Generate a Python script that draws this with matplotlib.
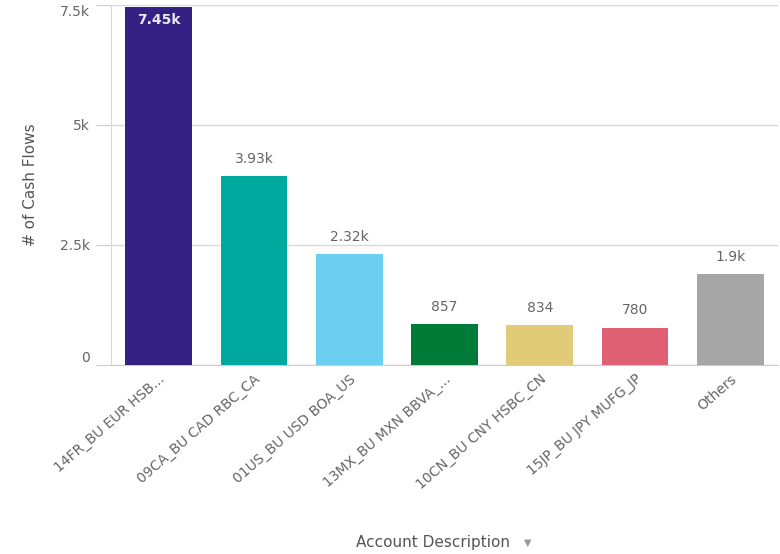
import matplotlib.pyplot as plt

# data
accounts = ['14FR_BU EUR HSB...', '09CA_BU CAD RBC_CA', '01US_BU USD BOA_US',
            '13MX_BU MXN BBVA_...', '10CN_BU CNY HSBC_CN', '15JP_BU JPY MUFG_JP', 'Others']
flows = [7450, 3930, 2320, 857, 834, 780, 1900]
value_labels = ['7.45k', '3.93k', '2.32k', '857', '834', '780', '1.9k']
colors = ['#332283', '#00a99d', '#6ccff0', '#007a37', '#e2cb78', '#e06073', '#a6a6a6']
yticks = [0, 2500, 5000, 7500]
ytick_labels = ['0', '2.5k', '5k', '7.5k']

plt.rcParams['font.family'] = ['DejaVu Sans']
fig = plt.figure(figsize=(7.8, 5.54), dpi=100)
ax = fig.add_axes([111 / 780, 1 - 365 / 554, 667 / 780, 360 / 554])

x = range(len(accounts))
ax.bar(x, flows, width=0.7, color=colors, zorder=3)

ax.set_xlim(-0.5, len(accounts) - 0.5)
ax.set_ylim(0, 7500)
ax.set_yticks(yticks)
ax.set_yticklabels(ytick_labels)
ax.yaxis.grid(True, color='#d9d9d9', linewidth=1, zorder=0)
ax.tick_params(axis='y', length=11, color='#cccccc', labelsize=10, labelcolor='#666666', pad=4)
ax.tick_params(axis='x', length=0, labelsize=10, labelcolor='#666666', pad=5)
ax.set_xticks(list(x))
ax.set_xticklabels(accounts, rotation=41, ha='right', rotation_mode='anchor')

# keep the end tick labels inside the axis like the original
ylabs = ax.get_yticklabels()
ylabs[0].set_va('bottom')
ylabs[-1].set_va('top')

for side in ['top', 'right']:
    ax.spines[side].set_visible(False)
ax.spines['left'].set_color('#d9d9d9')
ax.spines['bottom'].set_color('#cccccc')

# value labels: first bar inside, rest above
for i, (v, lab) in enumerate(zip(flows, value_labels)):
    if i == 0:
        ax.text(i, v - 120, lab, ha='center', va='top', color='#e8e8f0',
                fontsize=10, fontweight='bold', zorder=4)
    else:
        ax.text(i, v + 210, lab, ha='center', va='bottom', color='#666666', fontsize=10, zorder=4)

ax.set_ylabel('# of Cash Flows', fontsize=11, color='#555555', labelpad=16)
fig.text(433 / 780, 1 - 543 / 554, 'Account Description', ha='center', va='center',
         fontsize=11, color='#555555')
fig.text(528 / 780, 1 - 543 / 554, '\u25bc', ha='center', va='center', fontsize=7, color='#999999')

fig.savefig('out.png', dpi=100)
